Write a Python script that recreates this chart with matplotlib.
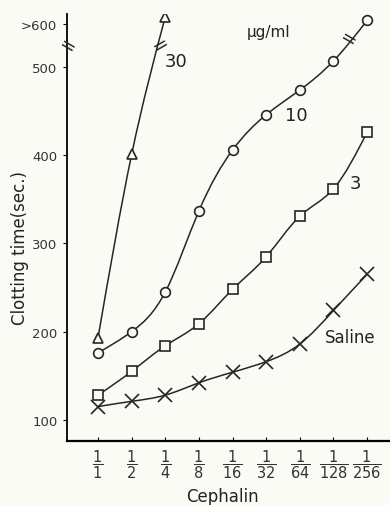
import numpy as np
from matplotlib import pyplot as plt
from matplotlib.path import Path
from matplotlib.patches import PathPatch

# Cephalin dilution (x index) and clotting times (sec.)
dilutions = ['1', '2', '4', '8', '16', '32', '64', '128', '256']
saline = [115, 121, 128, 142, 154, 166, 186, 224, 265]
conc_3 = [128, 155, 184, 209, 248, 285, 331, 362, 426]
conc_10 = [176, 200, 245, 337, 406, 446, 474, 507, 553]   # last point >600
conc_30 = [193, 401, 557]                                  # last point >600

y_ticks = [100, 200, 300, 400, 500, 549]
y_tick_labels = ['100', '200', '300', '400', '500', '>600']


def smooth_curve(ax, xs, ys):
    # natural cubic spline drawn as bezier segments through the points
    xs = np.asarray(xs, float)
    ys = np.asarray(ys, float)
    n = len(xs)
    A = np.zeros((n, n))
    b = np.zeros(n)
    A[0, 0], A[0, 1], b[0] = 2, 1, 3 * (ys[1] - ys[0])
    A[-1, -2], A[-1, -1], b[-1] = 1, 2, 3 * (ys[-1] - ys[-2])
    for i in range(1, n - 1):
        A[i, i - 1], A[i, i], A[i, i + 1] = 1, 4, 1
        b[i] = 3 * (ys[i + 1] - ys[i - 1])
    m = np.linalg.solve(A, b)
    verts = [(xs[0], ys[0])]
    codes = [Path.MOVETO]
    for i in range(n - 1):
        h = xs[i + 1] - xs[i]
        verts += [(xs[i] + h / 3, ys[i] + m[i] * h / 3),
                  (xs[i + 1] - h / 3, ys[i + 1] - m[i + 1] * h / 3),
                  (xs[i + 1], ys[i + 1])]
        codes += [Path.CURVE4] * 3
    ax.add_patch(PathPatch(Path(verts, codes), fill=False, lw=1.1,
                           edgecolor='#262626', zorder=2))


bg = '#fbfbf6'
fig = plt.figure(figsize=(3.9, 5.06), dpi=100, facecolor=bg)
ax = fig.add_axes([0.172, 0.1265, 0.828, 0.8435], facecolor=bg)

x = np.arange(len(dilutions))
smooth_curve(ax, x, saline)
smooth_curve(ax, x, conc_3)
smooth_curve(ax, x, conc_10)
smooth_curve(ax, x[:3], conc_30)

mk = dict(ls='none', color='#262626', mfc=bg, mew=1.2, zorder=3)
ax.plot(x, saline, marker='x', ms=10, **mk)
ax.plot(x, conc_3, marker='s', ms=7, **mk)
ax.plot(x, conc_10, marker='o', ms=7, **mk)
ax.plot(x[:3], conc_30, marker='^', ms=7, **mk)

# break marks
brk = dict(ha='center', va='center', fontsize=14, color='#262626', zorder=4)
ax.text(1.86, 527, '=', rotation=30, **brk)
ax.text(7.44, 532, '=', rotation=-30, **brk)
ax.text(-0.92, 524, '=', rotation=-30, clip_on=False, **brk)

txt = dict(ha='center', va='center', color='#222222')
ax.text(2.32, 507, '30', fontsize=13, **txt)
ax.text(5.89, 446, '10', fontsize=13, **txt)
ax.text(7.65, 368, '3', fontsize=13, **txt)
ax.text(7.5, 194, 'Saline', fontsize=12, **txt)
ax.text(5.06, 540, 'µg/ml', fontsize=11, **txt)

ax.set_xlim(-0.92, 8.68)
ax.set_ylim(76, 560)
ax.spines['top'].set_visible(False)
ax.spines['right'].set_visible(False)
ax.spines['left'].set_linewidth(1.3)
ax.spines['bottom'].set_linewidth(1.6)

ax.set_yticks(y_ticks)
ax.set_yticklabels(y_tick_labels, fontsize=9.5, color='#333333')
ax.set_xticks(x)
ax.set_xticklabels([r'$\dfrac{1}{' + d + '}$' for d in dilutions],
                   fontsize=10.5, color='#333333')
ax.tick_params(axis='y', direction='out', length=3, pad=4)
ax.tick_params(axis='x', direction='in', length=3, pad=5)

fig.text(20 / 390, 1 - 248 / 506, 'Clotting time(sec.)', rotation=90,
         ha='center', va='center', fontsize=12, color='#222222')
fig.text(222 / 390, 1 - 497 / 506, 'Cephalin', ha='center', va='center',
         fontsize=12, color='#222222')

fig.savefig('out.png', dpi=100, facecolor=bg)
